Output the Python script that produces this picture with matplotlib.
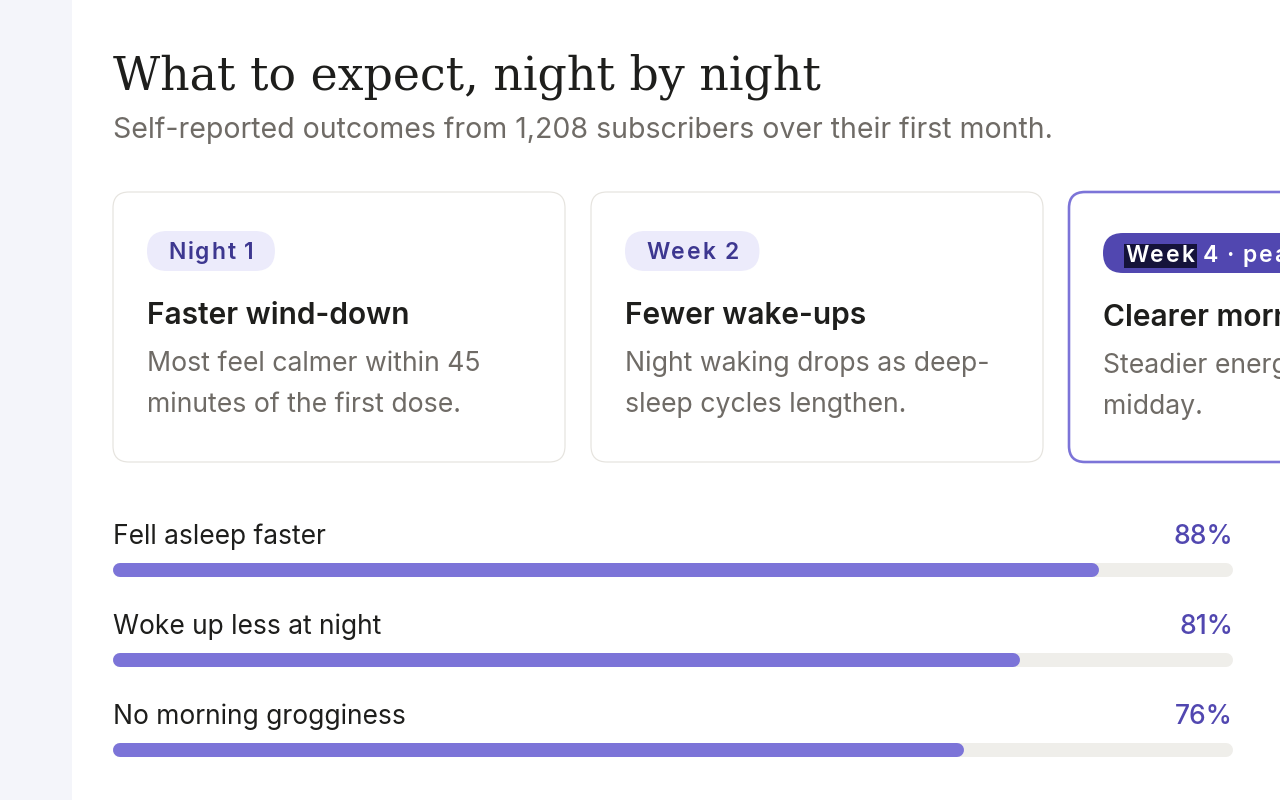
import matplotlib.pyplot as plt
from matplotlib.patches import FancyBboxPatch, Rectangle

# --- data ---
title = "What to expect, night by night"
subtitle = "Self-reported outcomes from 1,208 subscribers over their first month."

card_tags = ["Night 1", "Week 2", "Week 4 · peak"]
card_heads = ["Faster wind-down", "Fewer wake-ups", "Clearer mornings"]
card_lines = [
    ["Most feel calmer within 45", "minutes of the first dose."],
    ["Night waking drops as deep-", "sleep cycles lengthen."],
    ["Steadier energy through", "midday."],
]

outcomes = ["Fell asleep faster", "Woke up less at night", "No morning grogginess"]
shares = [88, 81, 76]

# --- styles ---
SANS = ["Inter", "DejaVu Sans"]
SERIF = ["DejaVu Serif"]
INK = "#1e1e1c"
GREY = "#6f6b66"
PURPLE = "#7c74d8"
PURPLE_DARK = "#5147b0"
TAG_BG = "#ecebfb"
TAG_INK = "#3d3790"
TRACK = "#efeeea"
PX = 72 / 100  # points per pixel


def spaced_text(ax, x, y, s, spacing=1.5, first_bbox=None, **kw):
    """Draws a word char by char, to get a little letter spacing."""
    words = s.split(" ")
    t = ax.text(x, y, words[0][0], va="baseline", bbox=first_bbox, **kw)
    first = t
    gap = 0
    for wi, w in enumerate(words):
        chars = w if wi else w[1:]
        if wi:
            gap += 4.5
        for ch in chars:
            t = ax.annotate(ch, xy=(1, 0), xycoords=t, xytext=(spacing + gap, 0),
                            textcoords="offset points", va="bottom", **kw)
            gap = 0
    return first, t


def main():
    fig = plt.figure(figsize=(12.8, 8), dpi=100)
    fig.patch.set_facecolor("white")
    ax = fig.add_axes([0, 0, 1, 1])
    ax.set_xlim(0, 1280)
    ax.set_ylim(800, 0)
    ax.axis("off")

    # left side strip
    ax.add_patch(Rectangle((0, 0), 72, 800, color="#f4f5fa", lw=0))

    ax.text(113, 90, title, family=SERIF, fontsize=33, color=INK, va="baseline")
    ax.text(113, 138, subtitle, family=SANS, fontsize=20.5, color=GREY, va="baseline")

    # cards
    card_x = [113, 591, 1069]
    card_w = 452
    tag_kw = dict(family=SANS, fontsize=16.5, weight="semibold", zorder=4)
    for i, x in enumerate(card_x):
        active = i == 2
        ax.add_patch(FancyBboxPatch(
            (x, 192), card_w, 270, boxstyle="round,pad=0,rounding_size=16",
            fc="white", ec=PURPLE if active else "#e6e4df",
            lw=(2.6 if active else 1.2) * PX, clip_on=False, zorder=2))
        tx = x + 34
        if active:
            ax.add_patch(FancyBboxPatch(
                (tx, 233), 280, 40, boxstyle="round,pad=0,rounding_size=20",
                fc=PURPLE_DARK, ec="none", clip_on=False, zorder=3))
            word, rest = card_tags[i].split(" ", 1)
            _, last = spaced_text(ax, tx + 22, 262, word, color="white",
                                  **tag_kw)
            fig.canvas.draw()
            inv = ax.transData.inverted()
            x_end = inv.transform(last.get_window_extent().p1)[0]
            ax.add_patch(Rectangle((tx + 21, 244), x_end - tx - 19, 24,
                                   fc="#15133a", ec="none", zorder=3.5))
            spaced_text(ax, x_end + 8, 262, rest, color="white", **tag_kw)
            hy = 326
        else:
            _, last = spaced_text(ax, tx + 21, 259, card_tags[i], color=TAG_INK,
                                  **tag_kw)
            fig.canvas.draw()
            inv = ax.transData.inverted()
            x_end = inv.transform(last.get_window_extent().p1)[0]
            ax.add_patch(FancyBboxPatch(
                (tx, 231), x_end - tx + 21, 40, boxstyle="round,pad=0,rounding_size=20",
                fc=TAG_BG, ec="none", zorder=3))
            hy = 324
        ax.text(tx, hy, card_heads[i], family=SANS, fontsize=21.5, weight="semibold",
                color=INK, va="baseline", zorder=4)
        for j, line in enumerate(card_lines[i]):
            ax.text(tx, hy + 47 + j * 41, line, family=SANS, fontsize=19.2,
                    color=GREY, va="baseline", zorder=4)

    # outcome bars, own axes with a 0-100 scale
    bx = fig.add_axes([113 / 1280, 1 - 780 / 800, 1120 / 1280, 280 / 800])
    bx.set_xlim(0, 100)
    bx.set_ylim(780, 500)
    bx.axis("off")
    cap = 7 / 1120 * 100  # half the bar height in data units
    bar_lw = 14 * PX
    for k, (label, v) in enumerate(zip(outcomes, shares)):
        yb = 570 + k * 90
        bx.plot([cap, 100 - cap], [yb, yb], color=TRACK, lw=bar_lw,
                solid_capstyle="round")
        bx.plot([cap, v - cap], [yb, yb], color=PURPLE, lw=bar_lw,
                solid_capstyle="round")
        bx.text(0, yb - 26, label, family=SANS, fontsize=19, color=INK,
                va="baseline")
        bx.text(100, yb - 26, f"{v}%", family=SANS, fontsize=19,
                weight="medium", color=PURPLE_DARK, ha="right", va="baseline")

    fig.savefig("out.png", dpi=100, facecolor="white")


if __name__ == "__main__":
    main()
